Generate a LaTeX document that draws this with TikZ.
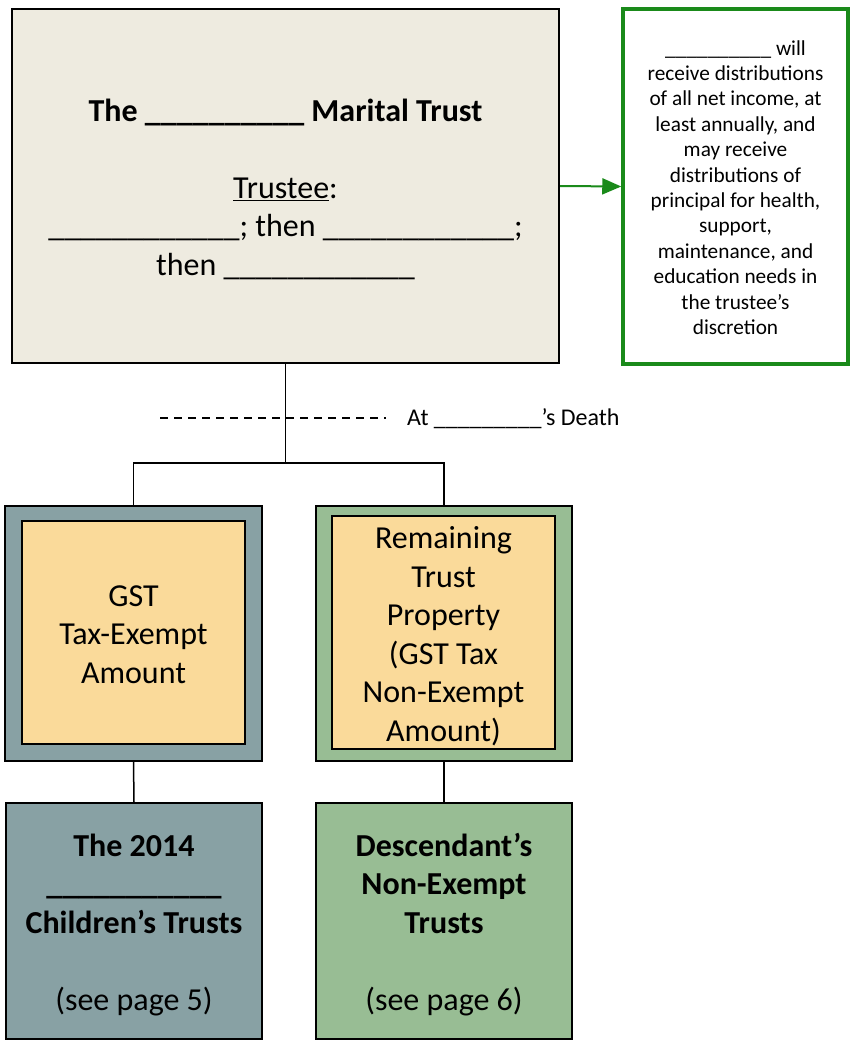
\documentclass[tikz,border=0pt]{standalone}
\usepackage{fontspec}
\setmainfont{Carlito}
\usetikzlibrary{arrows.meta}

\definecolor{parchment}{HTML}{EEEBE0}
\definecolor{leafgreen}{HTML}{1A8A1A}
\definecolor{slateteal}{HTML}{88A1A4}
\definecolor{sage}{HTML}{98BD94}
\definecolor{apricot}{HTML}{FADA9A}

% fixed ascent for the first line and descent for the last line,
% so every text block is centred the same way
\newcommand{\firstln}{\rule{0pt}{1.03em}}
\newcommand{\lastln}{\rule[-0.25em]{0pt}{0.25em}}

\tikzset{
  box/.style={draw=black, line width=2pt, inner sep=0pt, align=center,
              font=\fontsize{32}{38.5}\selectfont},
  notebox/.style={draw=leafgreen, line width=3.5pt, fill=white, inner sep=0pt,
              align=center, font=\fontsize{21.3}{25.4}\selectfont},
  link/.style={draw=black, line width=1.5pt},
  flow/.style={draw=leafgreen, line width=2pt,
               -{Triangle[length=19pt,width=16pt]}},
}

\begin{document}
\begin{tikzpicture}[x=1pt, y=-1pt]
  \useasboundingbox (0,0) rectangle (855,1048);

  % marital trust and its distribution terms
  \node[box, fill=parchment, minimum width=547pt, minimum height=354pt] (marital) at (285.5,186)
    {\firstln\textbf{The \_\_\_\_\_\_\_\_\_\_ Marital Trust}\\[38.5pt]
     \underline{Trustee}:\\
     \_\_\_\_\_\_\_\_\_\_\_\_; then \_\_\_\_\_\_\_\_\_\_\_\_;\\
     then \_\_\_\_\_\_\_\_\_\_\_\_\lastln};

  \node[notebox, minimum width=225pt, minimum height=355pt] (terms) at (735.5,186.5)
    {\firstln\_\_\_\_\_\_\_\_\_\_ will\\
     receive distributions\\
     of all net income, at\\
     least annually, and\\
     may receive\\
     distributions of\\
     principal for health,\\
     support,\\
     maintenance, and\\
     education needs in\\
     the trustee’s\\
     discretion\lastln};

  \draw[flow] (marital.east) -- (terms.west);

  % division at death
  \coordinate (split) at (285.5,463);
  \coordinate (dashL) at (160,418);
  \coordinate (dashR) at (386,418);
  \draw[line width=2pt, dash pattern=on 8pt off 6pt] (dashL) -- (dashR);
  \node[anchor=west, inner sep=0pt, font=\fontsize{24}{28}\selectfont] (death) at (407,418.5)
    {At \_\_\_\_\_\_\_\_\_’s Death};

  % the two shares
  \node[box, fill=slateteal, minimum width=257pt, minimum height=255pt] (exemptO) at (133.5,633.5) {};
  \node[box, fill=apricot, minimum width=223pt, minimum height=223pt] (exemptI) at (133.5,632.5)
    {\firstln GST\\Tax-Exempt\\Amount\lastln};

  \node[box, fill=sage, minimum width=256pt, minimum height=255pt] (restO) at (444,633.5) {};
  \node[box, fill=apricot, minimum width=223pt, minimum height=223pt] (restI) at (443.5,632.5)
    {\firstln Remaining\\Trust\\Property\\(GST Tax\\Non-Exempt\\Amount)\lastln};

  % resulting trusts
  \node[box, fill=slateteal, minimum width=256pt, minimum height=236pt] (kids) at (134,921)
    {\firstln\textbf{The 2014}\\
     \textbf{\_\_\_\_\_\_\_\_\_\_\_}\\
     \textbf{Children’s Trusts}\\[38.5pt]
     (see page 5)\lastln};

  \node[box, fill=sage, minimum width=256pt, minimum height=236pt] (desc) at (444,921)
    {\firstln\textbf{Descendant’s}\\
     \textbf{Non-Exempt}\\
     \textbf{Trusts}\\[38.5pt]
     (see page 6)\lastln};

  % connectors
  \draw[link] (marital.south) -- (split);
  \draw[link] (split) -| (exemptO.north);
  \draw[link] (split) -| (restO.north);
  \draw[link] (exemptO.south) -- (kids.north);
  \draw[link] (restO.south) -- (desc.north);
\end{tikzpicture}
\end{document}
